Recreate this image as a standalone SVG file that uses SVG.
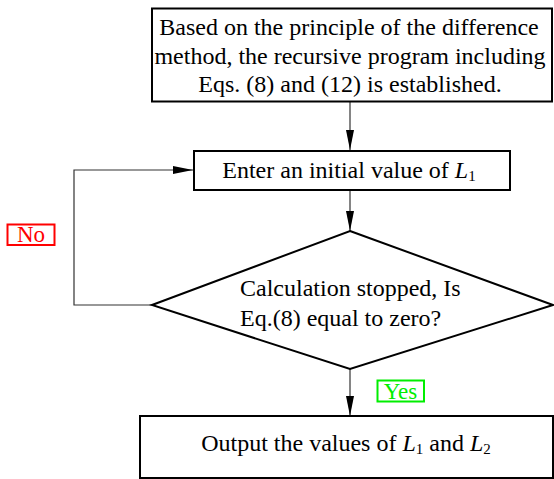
<svg xmlns="http://www.w3.org/2000/svg" width="554" height="479" viewBox="0 0 554 479">
<style>
.box{fill:#fff;stroke:#000;stroke-width:2}
text{font-family:'Liberation Serif','DejaVu Serif',serif}
.t{font-size:24px;fill:#000}
.c{fill:none;stroke:#333;stroke-width:1.2}
.lab{font-size:23px}
</style>
<defs>
<marker id="ah" markerWidth="20" markerHeight="8" refX="20" refY="4" orient="auto" markerUnits="userSpaceOnUse">
<path d="M0,0 L20,4 L0,8 Z" fill="#000"/>
</marker>
</defs>
<g id="connectors">
<line class="c" x1="350" y1="102" x2="350" y2="150" marker-end="url(#ah)"/>
<line class="c" x1="350" y1="190" x2="350" y2="231" marker-end="url(#ah)"/>
<polyline class="c" points="152,305 74,305 74,170 193,170" marker-end="url(#ah)"/>
<line class="c" x1="350" y1="369" x2="350" y2="416" marker-end="url(#ah)"/>
</g>
<g id="start">
<rect class="box" x="152" y="8.5" width="400" height="93"/>
<text class="t" font-family="Liberation Serif, serif" text-anchor="middle" x="349" y="35">Based on the principle of the difference</text>
<text class="t" font-family="Liberation Serif, serif" text-anchor="middle" x="350" y="63.5">method, the recursive program including</text>
<text class="t" font-family="Liberation Serif, serif" text-anchor="middle" x="350" y="92">Eqs. (8) and (12) is established.</text>
</g>
<g id="enter">
<rect class="box" x="194" y="151" width="316" height="39"/>
<text class="t" font-family="Liberation Serif, serif" text-anchor="middle" x="349" y="178">Enter an initial value of <tspan font-style="italic">L</tspan><tspan font-size="15" dy="3">1</tspan></text>
</g>
<g id="decision">
<polygon class="box" points="350,231 553,305 350,369 152,305"/>
<text class="t" font-family="Liberation Serif, serif" x="240" y="296">Calculation stopped, Is</text>
<text class="t" font-family="Liberation Serif, serif" x="240" y="326">Eq.(8) equal to zero?</text>
</g>
<g id="output">
<rect class="box" x="140" y="416" width="413" height="62"/>
<text class="t" font-family="Liberation Serif, serif" text-anchor="middle" x="346" y="451">Output the values of <tspan font-style="italic">L</tspan><tspan font-size="15" dy="3">1</tspan><tspan dy="-3"> and </tspan><tspan font-style="italic">L</tspan><tspan font-size="15" dy="3">2</tspan></text>
</g>
<g id="label-no">
<rect x="7.5" y="224.5" width="47" height="20.5" fill="none" stroke="#ff0000" stroke-width="2"/>
<text class="lab" font-family="Liberation Serif, serif" fill="#ff0000" text-anchor="middle" x="31" y="242">No</text>
</g>
<g id="label-yes">
<rect x="377.5" y="380.5" width="46.5" height="21" fill="none" stroke="#00ee00" stroke-width="2"/>
<text class="lab" font-family="Liberation Serif, serif" fill="#00ee00" text-anchor="middle" x="400.5" y="398.5">Yes</text>
</g>
</svg>
